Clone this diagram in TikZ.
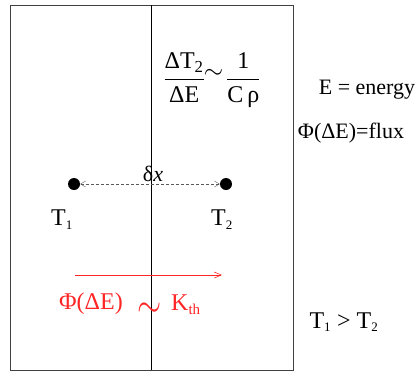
\documentclass[tikz,border=0pt]{standalone}
\usepackage{amsmath}
\usepackage{graphicx}
\usepackage{fontspec}
\setmainfont{Liberation Serif}
\usetikzlibrary{arrows.meta}

\begin{document}
\begin{tikzpicture}[x=1pt, y=-1pt, every node/.style={font=\fontsize{22}{24}\selectfont, inner sep=0pt},
	big/.style={font=\fontsize{24}{26}\selectfont},
	flow/.style={red!85}]
	\useasboundingbox (0,0) rectangle (420,376);
	% box and wall
	\draw[thick, black!75] (10,5) rectangle (293,370);
	\draw[thick] (151,5) -- (151,370);
	% relations
	\node[big] (ratio) at (212,80) {$\dfrac{\text{ΔT}_{\text{2}}}{\text{ΔE}}\hspace{-1pt}\raisebox{7pt}{$\sim$}\hspace{3pt}\dfrac{\text{1}}{\text{C\,ρ}}$};
	\node (energy) at (367,90) {E = energy};
	\node (flux) at (351,133) {Φ(ΔE)=flux};
	% the two points
	\node[circle, fill=black, minimum size=12pt] (p1) at (74,184) {};
	\node[circle, fill=black, minimum size=12pt] (p2) at (226,184) {};
	\draw[densely dashed, gray!70!black, {Straight Barb[length=5pt, width=6pt]}-{Straight Barb[length=5pt, width=6pt]}] (p1) -- (p2);
	\node (dx) at (153,174) {\textup{δ}\textit{x}};
	\node[big] (t1) at (62,220) {T\textsubscript{\fontsize{13}{13}\selectfont 1}};
	\node[big] (t2) at (222,220) {T\textsubscript{\fontsize{13}{13}\selectfont 2}};
	% heat flow
	\coordinate (fa) at (75,275);
	\coordinate (fb) at (222,275);
	\draw[flow, semithick, -{Straight Barb[length=7pt, width=6pt]}] (fa) -- (fb);
	\node[flow, big, anchor=west] (phi) at (59,304) {Φ(ΔE)};
	\node[flow, big] (sim) at (150,310) {\scalebox{1.25}[1.6]{$\sim$}};
	\node[flow, big, anchor=west] (kth) at (171,305) {K\textsubscript{\fontsize{15}{15}\selectfont th}};
	\node[big] (order) at (344,322) {T\textsubscript{\fontsize{13}{13}\selectfont 1} > T\textsubscript{\fontsize{13}{13}\selectfont 2}};
\end{tikzpicture}
\end{document}
